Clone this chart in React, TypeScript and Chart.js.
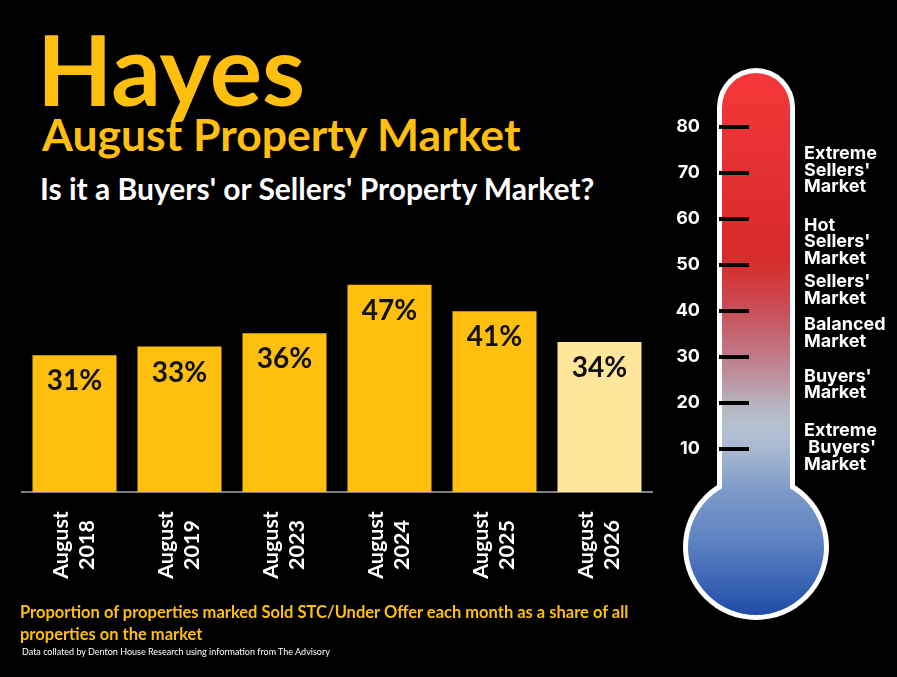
import React, { useEffect, useRef } from "react";
import { Chart, registerables } from "chart.js";

Chart.register(...registerables);

// ---------- data ----------
const categoryLabels: string[][] = [
  ["August", "2018"],
  ["August", "2019"],
  ["August", "2023"],
  ["August", "2024"],
  ["August", "2025"],
  ["August", "2026"],
];
const shareValues: number[] = [31, 33, 36, 47, 41, 34];
const barColors: string[] = ["#FFBF0F", "#FFBF0F", "#FFBF0F", "#FFBF0F", "#FFBF0F", "#FFE69A"];

const thermoTicks: number[] = [10, 20, 30, 40, 50, 60, 70, 80];
const zoneLabels: string[][] = [
  ["Extreme", "Sellers'", "Market"],
  ["Hot", "Sellers'", "Market"],
  ["Sellers'", "Market"],
  ["Balanced", "Market"],
  ["Buyers'", "Market"],
  ["Extreme", " Buyers'", "Market"],
];
const zoneLevels: number[] = [70.6, 55.0, 44.6, 35.2, 24, 10.3];

const YELLOW = "#FFBF0F";

// ---------- bar chart ----------
function BarChart() {
  const ref = useRef<HTMLCanvasElement | null>(null);
  useEffect(() => {
    if (!ref.current) return;
    const valueLabels = {
      id: "valueLabels",
      afterDatasetsDraw(chart: any) {
        const ctx = chart.ctx;
        const meta = chart.getDatasetMeta(0);
        ctx.save();
        ctx.font = "bold 28px Lato";
        ctx.fillStyle = "#111111";
        ctx.textAlign = "center";
        ctx.textBaseline = "middle";
        meta.data.forEach((bar: any, i: number) => {
          ctx.fillText(`${shareValues[i]}%`, bar.x, bar.y + 26);
        });
        ctx.restore();
      },
    };
    const rotatedLabels = {
      id: "rotatedLabels",
      afterDraw(chart: any) {
        const ctx = chart.ctx;
        const xs = chart.scales.x;
        const cy = chart.chartArea.bottom + 53;
        ctx.save();
        ctx.font = "bold 21.5px Lato";
        ctx.fillStyle = "#FFFFFF";
        ctx.textAlign = "center";
        ctx.textBaseline = "middle";
        categoryLabels.forEach((lines, i) => {
          const px = xs.getPixelForTick(i);
          ctx.save();
          ctx.translate(px, cy);
          ctx.rotate(-Math.PI / 2);
          lines.forEach((ln, j) => {
            ctx.fillText(ln, 0, (j - (lines.length - 1) / 2) * 26);
          });
          ctx.restore();
        });
        ctx.restore();
      },
    };
    const chart = new Chart(ref.current, {
      type: "bar",
      data: {
        labels: categoryLabels.map((l) => l.join(" ")),
        datasets: [
          {
            data: shareValues,
            backgroundColor: barColors,
            borderWidth: 0,
            categoryPercentage: 0.8,
            barPercentage: 1.0,
          },
        ],
      },
      options: {
        responsive: false,
        animation: false,
        layout: { padding: { left: 22, right: 8, top: 41.5, bottom: 185 } },
        plugins: { legend: { display: false }, tooltip: { enabled: false } },
        scales: {
          x: {
            grid: { display: false, drawTicks: false },
            ticks: { display: false },
            border: { display: true, color: "#7F7F7F", width: 2 },
            afterFit: (s: any) => {
              s.height = 0;
            },
          },
          y: { display: false, min: 0, max: 50 },
        },
      },
      plugins: [valueLabels, rotatedLabels],
    });
    return () => chart.destroy();
  }, []);
  return (
    <canvas
      ref={ref}
      width={660}
      height={447}
      style={{ position: "absolute", left: 0, top: 230, width: 660, height: 447 }}
    />
  );
}

// ---------- thermometer ----------
function Thermometer() {
  const ref = useRef<HTMLCanvasElement | null>(null);
  useEffect(() => {
    if (!ref.current) return;
    const body = {
      id: "thermoBody",
      beforeDraw(chart: any) {
        const ctx = chart.ctx;
        const cx = chart.chartArea.left + 37;
        const top = 68;
        const halfW = 39;
        const bulbY = 547;
        const bulbR = 73;
        const border = 5;
        const shape = (hw: number, r: number, t: number) => {
          ctx.beginPath();
          ctx.moveTo(cx - hw, bulbY);
          ctx.lineTo(cx - hw, t + hw);
          ctx.arc(cx, t + hw, hw, Math.PI, 0);
          ctx.lineTo(cx + hw, bulbY);
          ctx.closePath();
          ctx.fill();
          ctx.beginPath();
          ctx.arc(cx, bulbY, r, 0, Math.PI * 2);
          ctx.fill();
        };
        ctx.save();
        ctx.fillStyle = "#FFFFFF";
        shape(halfW, bulbR, top);
        const g = ctx.createLinearGradient(0, 70, 0, 620);
        g.addColorStop(0.0, "#F5383A");
        g.addColorStop(0.327, "#D82A2A");
        g.addColorStop(0.364, "#D53232");
        g.addColorStop(0.438, "#C9505A");
        g.addColorStop(0.52, "#C07A88");
        g.addColorStop(0.607, "#B8B2BE");
        g.addColorStop(0.645, "#B4C2D0");
        g.addColorStop(0.69, "#A8B8D0");
        g.addColorStop(0.764, "#7D9AC8");
        g.addColorStop(0.855, "#5F84C4");
        g.addColorStop(1.0, "#1B48A5");
        ctx.fillStyle = g;
        shape(halfW - border, bulbR - border, top + border);
        ctx.restore();
      },
      afterDraw(chart: any) {
        const ctx = chart.ctx;
        const ys = chart.scales.y;
        const x = chart.chartArea.right + 55;
        ctx.save();
        ctx.font = "bold 18px Inter";
        ctx.fillStyle = "#FFFFFF";
        ctx.textAlign = "left";
        ctx.textBaseline = "middle";
        zoneLabels.forEach((lines, i) => {
          const cy = ys.getPixelForValue(zoneLevels[i]);
          lines.forEach((ln, j) => {
            ctx.fillText(ln, x, cy + (j - (lines.length - 1) / 2) * 16.8);
          });
        });
        ctx.restore();
      },
    };
    const chart = new Chart(ref.current, {
      type: "scatter",
      data: { datasets: [{ data: [] }] },
      options: {
        responsive: false,
        animation: false,
        layout: { padding: { left: 0, right: 148, top: 127, bottom: 228 } },
        plugins: { legend: { display: false }, tooltip: { enabled: false } },
        scales: {
          x: { display: false, min: 0, max: 1 },
          y: {
            min: 10,
            max: 80,
            afterBuildTicks: (s: any) => {
              s.ticks = thermoTicks.map((v) => ({ value: v }));
            },
            afterFit: (s: any) => {
              s.width = 59;
            },
            ticks: {
              color: "#FFFFFF",
              padding: 19,
              font: { family: "Inter", weight: "bold", size: 18 },
              autoSkip: false,
            },
            grid: { color: "#000000", lineWidth: 4, drawTicks: false },
            border: { display: false },
          },
        },
      },
      plugins: [body],
    });
    return () => chart.destroy();
  }, []);
  return (
    <canvas
      ref={ref}
      width={237}
      height={677}
      style={{ position: "absolute", left: 660, top: 0, width: 237, height: 677 }}
    />
  );
}

export default function App() {
  const abs = (o: React.CSSProperties): React.CSSProperties => ({
    position: "absolute",
    whiteSpace: "nowrap",
    lineHeight: 1,
    margin: 0,
    ...o,
  });
  return (
    <div
      style={{
        position: "relative",
        width: 897,
        height: 677,
        background: "#000",
        overflow: "hidden",
        fontFamily: "Lato, sans-serif",
      }}
    >
      <style>{"html,body{margin:0;padding:0;background:#000;}"}</style>
      <div style={abs({ left: 37, top: 19, fontSize: 98, fontWeight: 700, color: YELLOW })}>Hayes</div>
      <div style={abs({ left: 42, top: 112, fontSize: 44.5, fontWeight: 700, color: YELLOW })}>
        August Property Market
      </div>
      <div style={abs({ left: 40, top: 173, fontSize: 30, fontWeight: 700, color: "#FFFFFF" })}>
        Is it a Buyers' or Sellers' Property Market?
      </div>
      <BarChart />
      <Thermometer />
      <div
        style={abs({
          left: 20,
          top: 601,
          fontSize: 16.5,
          lineHeight: "22px",
          fontWeight: 700,
          color: YELLOW,
        })}
      >
        Proportion of properties marked Sold STC/Under Offer each month as a share of all
        <br />
        properties on the market
      </div>
      <div style={abs({ left: 22, top: 647, fontSize: 9, color: "#FFFFFF" })}>
        Data collated by Denton House Research using information from The Advisory
      </div>
    </div>
  );
}
